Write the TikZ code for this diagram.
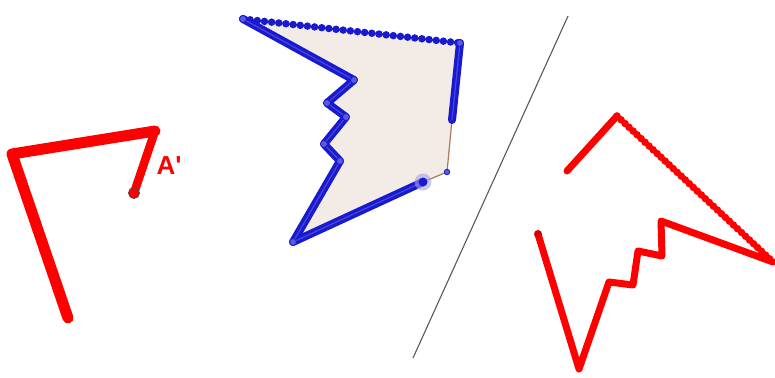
\documentclass[tikz,border=0pt]{standalone}
\usepackage{fontspec}
\setmainfont{Liberation Sans}
\begin{document}
\begin{tikzpicture}[x=1pt,y=-1pt,
  redline/.style={draw=gred,line width=11pt,line cap=round,line join=round},
  redthin/.style={draw=gred,line width=7pt,line cap=round,line join=round},
  reddots/.style={draw=gred,line width=7.5pt,line cap=round,dash pattern=on 0pt off 5.5pt},
  blueline/.style={draw=gblue,line width=8pt,line cap=round,line join=round},
  bluecore/.style={draw=gbluelight,line width=1.2pt,line cap=round,line join=round},
  bluedots/.style={draw=gblue,line width=7.5pt,line cap=round,dash pattern=on 0pt off 7.2pt},
  brownline/.style={draw=gbrown,line width=1.2pt},
  vpt/.style={circle,fill=gbluept,draw=gblue,line width=0.8pt,inner sep=0pt,minimum size=7pt},
]
\definecolor{gred}{RGB}{255,0,0}
\definecolor{gblue}{RGB}{25,25,205}
\definecolor{gbluelight}{RGB}{70,70,225}
\definecolor{gbluept}{RGB}{90,90,220}
\definecolor{gbrown}{RGB}{170,120,90}
\definecolor{gfill}{RGB}{242,235,230}
\useasboundingbox (0,0) rectangle (775,377);
\fill[white] (0,0) rectangle (775,377);

% ---- left red figure
\coordinate (L1) at (68,318);
\coordinate (L2) at (12,154);
\coordinate (L3) at (155,131);
\coordinate (L4) at (134,193);
\draw[redline] (L1) -- (L2) -- (L3);
\draw[redthin,line width=8.5pt] (L3) -- (L4);
\node[circle,fill=gred,draw=black!70,line width=0.9pt,inner sep=0pt,minimum size=11pt] (LA) at (L4) {};
\node[text=gred,font=\bfseries\fontsize{26}{26}\selectfont] (Alab) at (169,166) {A\textquotesingle};

% ---- blue polygon
\coordinate (P1) at (243,19);
\coordinate (P2) at (460,43);
\coordinate (P3) at (452,120);
\coordinate (P4) at (447,172);
\coordinate (P5) at (423,182);
\coordinate (P6) at (293,242);
\coordinate (P7) at (340,161);
\coordinate (P8) at (324,144);
\coordinate (P9) at (346,117);
\coordinate (P10) at (327,103);
\coordinate (P11) at (354,80);
\fill[gfill] (P1) -- (P2) -- (P3) -- (P4) -- (P5) -- (P6) -- (P7) -- (P8) -- (P9) -- (P10) -- (P11) -- cycle;
\draw[brownline] (P3) -- (P4) -- (P5);
\draw[bluedots] (P1) -- (P2);
\draw[blueline] (P2) -- (P3);
\draw[blueline] (P5) -- (P6) -- (P7) -- (P8) -- (P9) -- (P10) -- (P11) -- (P1);
\draw[bluecore] (P2) -- (P3);
\draw[bluecore] (P5) -- (P6) -- (P7) -- (P8) -- (P9) -- (P10) -- (P11) -- (P1);
\fill[gblue!40,opacity=0.6] (P5) circle (8.5pt);
\fill[gblue] (P5) circle (4.5pt);
\node[vpt,minimum size=5.5pt] (V4) at (P4) {};
\foreach \p in {P1,P2,P6,P7,P8,P9,P10,P11} \node[vpt] at (\p) {};

% ---- gray line
\coordinate (G1) at (568,16);
\coordinate (G2) at (413,358);
\draw[black!65,line width=1.1pt] (G1) -- (G2);

% ---- right red figure
\coordinate (Q1) at (567,171);
\coordinate (Q2) at (617,116);
\coordinate (Q3) at (773,262);
\coordinate (Q4) at (661,221);
\coordinate (Q5) at (662,256);
\coordinate (Q6) at (638,251);
\coordinate (Q7) at (633,285);
\coordinate (Q8) at (609,282);
\coordinate (Q9) at (579,369);
\coordinate (Q10) at (538,234);
\draw[redthin] (Q1) -- (Q2);
\draw[reddots] (Q2) -- (Q3);
\draw[redthin] (Q3) -- (Q4) -- (Q5) -- (Q6) -- (Q7) -- (Q8) -- (Q9) -- (Q10);
\fill[red!85!black] (Q10) circle (4pt);
\end{tikzpicture}
\end{document}
